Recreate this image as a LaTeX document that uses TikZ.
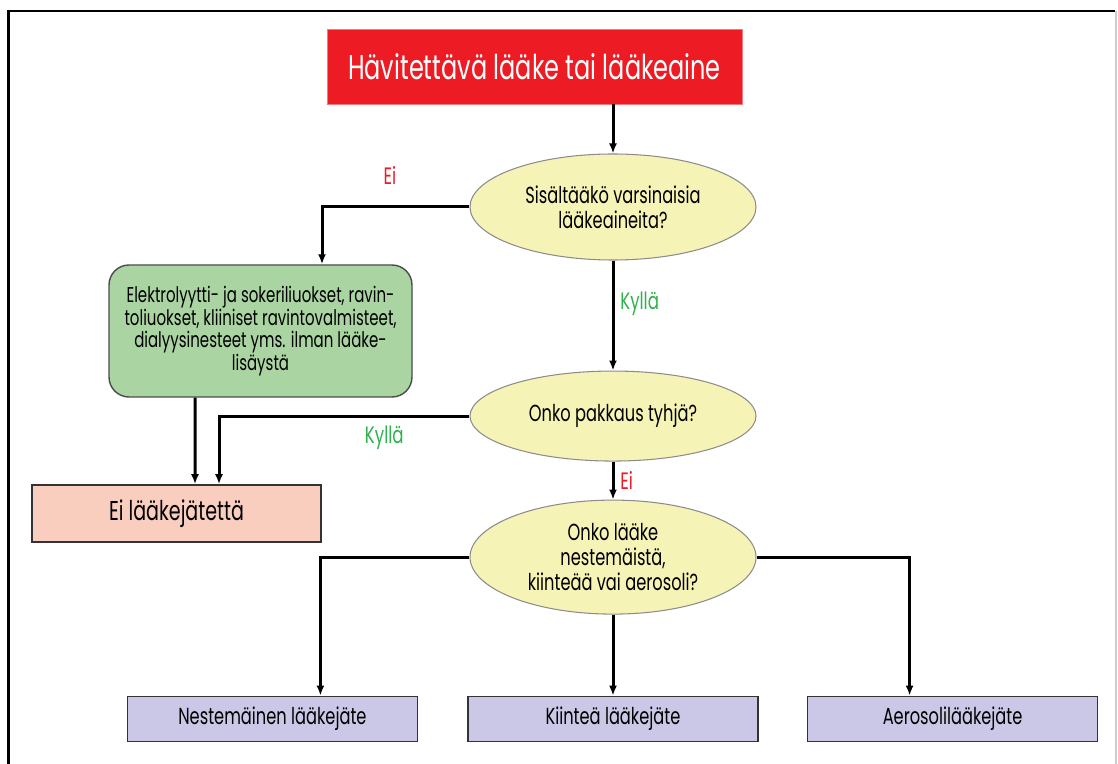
\documentclass[tikz,border=0pt]{standalone}
\usepackage{fontspec}
\setmainfont{Poppins}[FakeStretch=0.7]
\usepackage{xcolor}
\usetikzlibrary{shapes.geometric,arrows.meta,positioning}

\definecolor{titlered}{RGB}{237,28,36}
\definecolor{askyellow}{RGB}{246,243,182}
\definecolor{plaingreen}{RGB}{170,213,162}
\definecolor{nowastepink}{RGB}{250,206,190}
\definecolor{wastepurple}{RGB}{202,200,230}
\definecolor{yesgreen}{RGB}{46,178,76}

\begin{document}
\begin{tikzpicture}[
    node distance=1.0cm and 1.0cm,
    box/.style={rectangle, draw=black!80, line width=0.9pt, minimum width=5.8cm, minimum height=0.9cm, align=center, font=\fontsize{13.2}{15}\selectfont},
    query/.style={ellipse, draw=black!45, line width=0.6pt, fill=askyellow, minimum width=5.72cm, inner sep=0pt, align=center, font=\fontsize{13.2}{14.2}\selectfont},
    arrow/.style={-{Latex[length=0.2cm,width=0.16cm]}, line width=0.06cm},
    yes/.style={text=yesgreen, font=\fontsize{13.5}{15}\selectfont},
    no/.style={text=titlered, font=\fontsize{13.5}{15}\selectfont}
]
\useasboundingbox (0,0) rectangle (22.36,-15.28);
% Frame
\draw[line width=0.05cm] (0.17,-15.28) -- (0.17,-0.22) -- (22.3,-0.22);
\draw[black!20, line width=0.03cm] (22.32,-0.22) -- (22.32,-15.28);

% Questions
\node[query, minimum height=2.12cm] (contains) at (12.26,-4.14) {Sisältääkö varsinaisia\\lääkeaineita?};
\node[query, minimum height=1.8cm, below=2.2cm of contains] (empty) {Onko pakkaus tyhjä?};
\node[query, minimum height=2.28cm, below=0.76cm of empty] (form) {Onko lääke\\nestemäistä,\\kiinteää vai aerosoli?};

% Start and side boxes
\node[rectangle, fill=titlered, draw=titlered!60, minimum width=8.3cm, minimum height=1.5cm, text=white, font=\fontsize{19.5}{22}\selectfont] (title) at (10.69,-1.33) {Hävitettävä lääke tai lääkeaine};
\node[rectangle, rounded corners=0.4cm, draw=black!70, line width=0.8pt, fill=plaingreen, minimum width=6.06cm, minimum height=2.64cm, align=center, font=\fontsize{12.2}{12.8}\selectfont] (solutions) at (5.21,-6.62) {Elektrolyytti- ja sokeriliuokset, ravin-\\toliuokset, kliiniset ravintovalmisteet,\\dialyysinesteet yms. ilman lääke-\\lisäystä};
\node[box, fill=nowastepink, minimum width=5.78cm, minimum height=1.14cm, font=\fontsize{15.5}{17}\selectfont] (nowaste) at (3.53,-10.27) {Ei lääkejätettä};

% Waste types
\node[box, fill=wastepurple, below=1.62cm of form] (solid) {Kiinteä lääkejäte};
\node[box, fill=wastepurple, left=0.98cm of solid] (liquid) {Nestemäinen lääkejäte};
\node[box, fill=wastepurple, right=0.96cm of solid] (aerosol) {Aerosolilääkejäte};

% Arrows
\draw[arrow] (title.south -| contains.north) -- (contains.north);
\draw[arrow] (contains.west) -| node[no, pos=0.27, above=0.3cm] {Ei} ([xshift=1.23cm]solutions.north);
\draw[arrow] (contains) -- node[yes, right, pos=0.39] {Kyllä} (empty);
\draw[arrow] ([xshift=-1.31cm]solutions.south) -- ([xshift=0.37cm]nowaste.north);
\draw[arrow] (empty.west) -| node[yes, pos=0.17, below=0.05cm] {Kyllä} ([xshift=0.85cm]nowaste.north);
\draw[arrow] (empty) -- node[no, right] {Ei} (form);
\draw[arrow] (form.west) -| ([xshift=0.96cm]liquid.north);
\draw[arrow] (form) -- (solid);
\draw[arrow] (form.east) -| ([xshift=-0.86cm]aerosol.north);

\end{tikzpicture}
\end{document}
